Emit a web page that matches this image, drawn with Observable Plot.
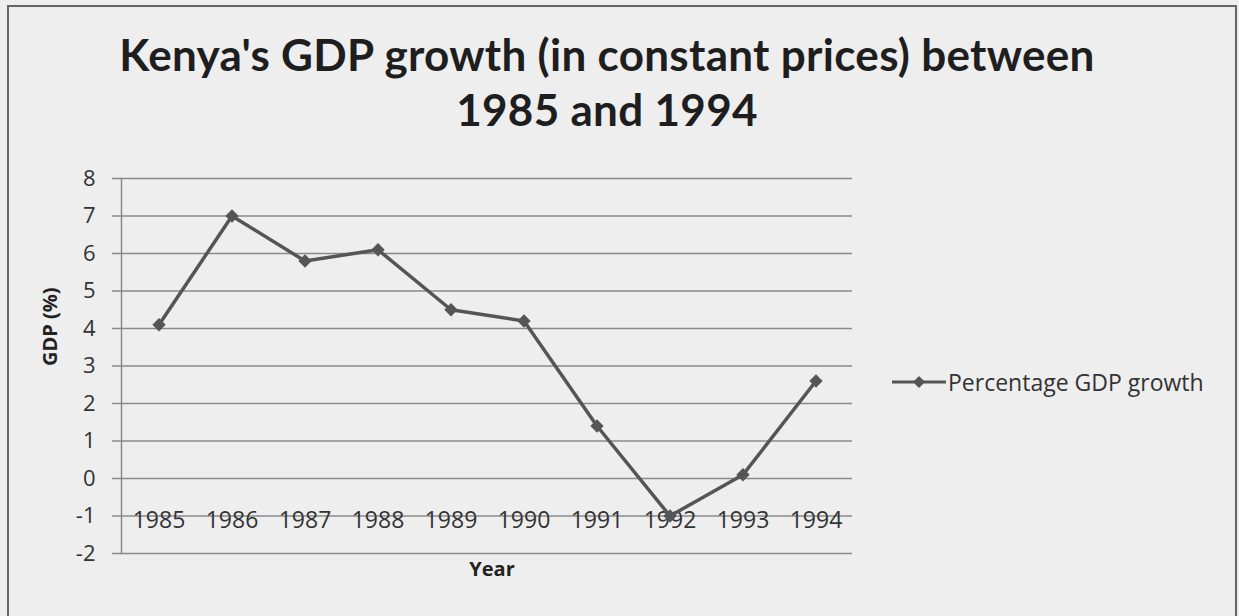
<!DOCTYPE html>
<html><head><meta charset="utf-8">
<script src="https://cdn.jsdelivr.net/npm/d3@7"></script>
<script src="https://cdn.jsdelivr.net/npm/@observablehq/plot@0.6"></script>
<style>
html,body{margin:0;padding:0;background:#ececec;}
#wrap{position:relative;width:1239px;height:616px;overflow:hidden;background:#eeeeee;}
#frame{position:absolute;left:7px;top:5px;width:1226px;height:640px;border:2px solid #666;border-bottom:none;}
.title{position:absolute;left:0;width:1214px;height:53px;text-align:center;font-family:Lato, "Open Sans", sans-serif;font-weight:bold;font-size:44px;letter-spacing:0.3px;line-height:53px;color:#1e1e1e;}
#t1{top:28px;}
#t2{top:83px;}
#chart{position:absolute;left:0;top:140px;}
#legend{position:absolute;left:890px;top:366px;display:flex;align-items:center;font-family:"Open Sans",sans-serif;font-size:23px;color:#333;}
</style></head>
<body>
<div id="wrap">
  <div id="frame"></div>
  <div class="title" id="t1">Kenya's GDP growth (in constant prices) between</div>
  <div class="title" id="t2">1985 and 1994</div>
  <div id="chart"></div>
  <div id="legend">
    <svg width="58" height="20"><line x1="2" y1="10" x2="56" y2="10" stroke="#555" stroke-width="3"/><path d="M29,4 L35,10 L29,16 L23,10 Z" fill="#555"/></svg>
    <span>Percentage GDP growth</span>
  </div>
</div>
<script>
const years = ["1985","1986","1987","1988","1989","1990","1991","1992","1993","1994"];
const growth = [4.1, 7.0, 5.8, 6.1, 4.5, 4.2, 1.4, -1.0, 0.1, 2.6];
const yTicks = [-2,-1,0,1,2,3,4,5,6,7,8];
const seriesName = "Percentage GDP growth";
const xLabelLevel = -1.12;

const data = years.map((year, i) => ({year, growth: growth[i]}));

const chart = Plot.plot({
  width: 1239,
  height: 476,
  marginTop: 38,
  marginBottom: 63,
  marginLeft: 121,
  marginRight: 387,
  style: {background: "transparent", fontFamily: "'Open Sans', sans-serif", fontSize: "21px", color: "#333"},
  x: {type: "band", domain: years, padding: 0, axis: null},
  y: {domain: [-2, 8], axis: null},
  marks: [
    Plot.gridY(yTicks, {stroke: "#8a8a8a", strokeOpacity: 1, strokeWidth: 1.5}),
    Plot.axisY(yTicks, {tickSize: 9, tickPadding: 17, stroke: "#8a8a8a", strokeWidth: 1.5, fontSize: 22, label: null, tickFormat: d => String(d)}),
    Plot.frame({anchor: "left", stroke: "#8a8a8a", strokeWidth: 1.5}),
    Plot.text(years, {x: d => d, y: () => xLabelLevel, fontSize: 23, fill: "#333", lineAnchor: "middle"}),
    Plot.line(data, {x: "year", y: "growth", stroke: "#555", strokeWidth: 3.5}),
    Plot.dot(data, {x: "year", y: "growth", symbol: "diamond2", r: 6, fill: "#555", stroke: "none"}),
    Plot.text(["GDP (%)"], {frameAnchor: "left", dx: -71, rotate: -90, fontWeight: "bold", fontSize: 20, fill: "#222"}),
    Plot.text(["Year"], {frameAnchor: "bottom", dy: 22, dx: 5, fontWeight: "bold", fontSize: 20, fill: "#222"})
  ]
});
document.getElementById("chart").appendChild(chart);
</script>
</body></html>
